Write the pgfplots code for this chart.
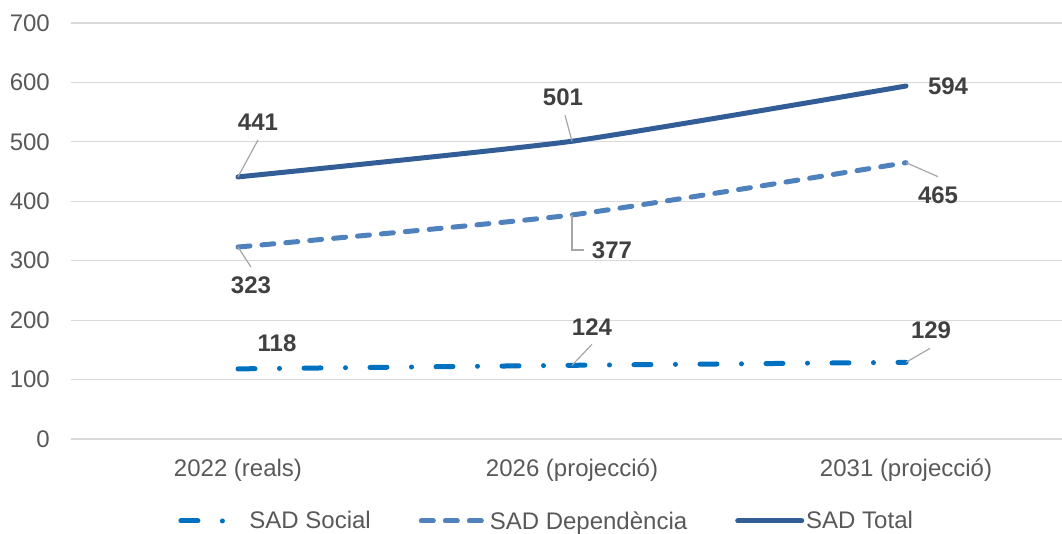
\documentclass[border=0pt]{standalone}
\usepackage{fontspec}
\setmainfont{Liberation Sans}
\usepackage{pgfplots}
\pgfplotsset{compat=1.18}
\definecolor{cSocial}{HTML}{0070C0}
\definecolor{cDep}{HTML}{4F81BD}
\definecolor{cTot}{HTML}{325D96}
\definecolor{cGrid}{HTML}{D9D9D9}
\definecolor{cTick}{HTML}{595959}
\definecolor{cLab}{HTML}{404040}
\definecolor{cLead}{HTML}{A6A6A6}
\newcommand{\bigf}{\fontsize{24bp}{28bp}\selectfont}
\tikzset{
  lab/.style={font=\bfseries\bigf, text=cLab, inner sep=0pt, anchor=center},
  lead/.style={draw=cLead, line width=1.2bp},
}
\begin{document}
\begin{tikzpicture}
\useasboundingbox (-71bp,-95bp) rectangle (991bp,439bp);
\begin{axis}[
  scale only axis, width=991bp, height=416bp,
  xmin=-0.5, xmax=2.467, ymin=0, ymax=700,
  ytick={0,100,...,700},
  xtick={0,1,2},
  xticklabels={2022 (reals), 2026 (projecció), 2031 (projecció)},
  axis line style={draw=none},
  major tick length=0pt,
  ymajorgrids, grid style={cGrid, line width=1.2bp},
  tick label style={font=\bigf, text=cTick, inner sep=0pt},
  /pgf/number format/assume math mode=true,
  yticklabel style={anchor=east, xshift=-21bp},
  xticklabel style={anchor=north, yshift=-20bp},
  legend columns=3,
  legend style={at={(0.48,-0.197)}, anchor=center, draw=none, font=\bigf, text=cTick,
    /tikz/every even column/.append style={column sep=46bp}},
  legend image code/.code={\draw[#1] (0bp,0bp) -- (64bp,0bp);},
  clip=false,
]
\addplot[cSocial, line width=5bp, line cap=round, smooth, tension=0.3,
  dash pattern=on 17bp off 24.5bp on 0bp off 24.5bp]
  coordinates {(0,118) (1,124) (2,129)};
\addlegendentry{SAD Social}
\addplot[cDep, line width=5bp, line cap=round, smooth, tension=0.3,
  dash pattern=on 12bp off 12bp]
  coordinates {(0,323) (1,377) (2,465)};
\addlegendentry{SAD Dependència}
\addplot[cTot, line width=5bp, line cap=round, smooth, tension=0.3]
  coordinates {(0,441) (1,501) (2,594)};
\addlegendentry{SAD Total}

% leader lines
\draw[lead] (axis cs:0,441) -- ++(20bp,37bp);
\draw[lead] (axis cs:1,501) -- ++(-7bp,26bp);
\draw[lead] (axis cs:0,323) -- ++(13bp,-20bp);
\draw[lead] (axis cs:1,377) -- ++(0bp,-35bp) -- ++(12bp,0bp);
\draw[lead] (axis cs:2,465) -- ++(32bp,-14bp);
\draw[lead] (axis cs:1,124) -- ++(20bp,21bp);
\draw[lead] (axis cs:2,129) -- ++(24bp,14bp);

% data labels
\node[lab, xshift=20bp, yshift=55bp] at (axis cs:0,441) {441};
\node[lab, xshift=-9bp, yshift=44bp] at (axis cs:1,501) {501};
\node[lab, xshift=42bp, yshift=0bp] at (axis cs:2,594) {594};
\node[lab, xshift=13bp, yshift=-38bp] at (axis cs:0,323) {323};
\node[lab, xshift=40bp, yshift=-35bp] at (axis cs:1,377) {377};
\node[lab, xshift=32bp, yshift=-33bp] at (axis cs:2,465) {465};
\node[lab, xshift=39bp, yshift=26bp] at (axis cs:0,118) {118};
\node[lab, xshift=20bp, yshift=38bp] at (axis cs:1,124) {124};
\node[lab, xshift=25bp, yshift=32bp] at (axis cs:2,129) {129};
\end{axis}
\end{tikzpicture}
\end{document}
